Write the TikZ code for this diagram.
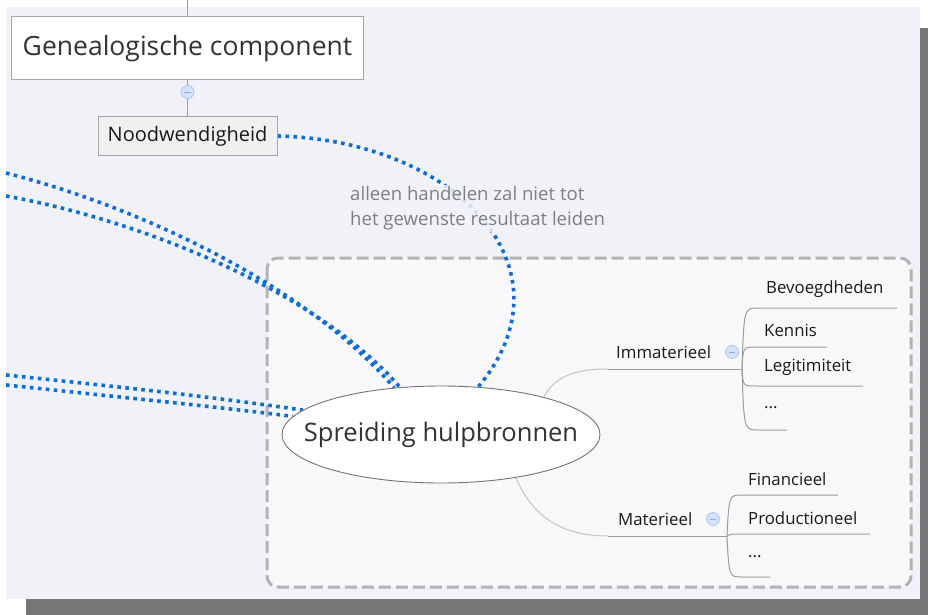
\documentclass[tikz,border=0pt]{standalone}
\usepackage{fontspec}
\setmainfont{Open Sans}
\usetikzlibrary{shapes.geometric}
\definecolor{canvasbg}{HTML}{F1F2F8}
\definecolor{innerbg}{HTML}{F8F8FB}
\definecolor{shadowc}{HTML}{777777}
\definecolor{bluedot}{HTML}{0A6DD9}
\definecolor{brgray}{HTML}{9C9C9C}
\definecolor{softgray}{HTML}{C4C4C4}
\definecolor{boxborder}{HTML}{A6A6A6}
\definecolor{textdark}{HTML}{333333}
\definecolor{labelgray}{HTML}{7F7F7F}
\definecolor{dashgray}{HTML}{B3B3B3}
\definecolor{colfill}{HTML}{D3E2FA}
\definecolor{colborder}{HTML}{AFC7EE}
\definecolor{colminus}{HTML}{8DA9D6}
\pgfdeclarelayer{back}
\pgfdeclarelayer{links}
\pgfsetlayers{back,links,main}
\tikzset{
  conn/.style={draw=brgray, line width=0.9pt},
  brline/.style={draw=brgray, line width=1pt},
  softline/.style={draw=softgray, line width=1pt},
  bluelink/.style={draw=bluedot, line width=3.6pt, dash pattern=on 3.6pt off 4.4pt},
  genbox/.style={draw=boxborder, fill=white, line width=1pt, minimum width=352pt, minimum height=63pt, inner sep=0pt, text=textdark, font=\fontsize{26.5}{31}\selectfont},
  noodbox/.style={draw=boxborder, fill=black!6, line width=1pt, minimum width=179pt, minimum height=38pt, inner sep=0pt, text=black!90, font=\fontsize{20}{24}\selectfont},
  mainell/.style={ellipse, draw=black!55, fill=white, line width=0.9pt, minimum width=318pt, minimum height=97pt, inner sep=0pt},
  collapse/.style={circle, draw=colborder, fill=colfill, line width=0.8pt, minimum size=13pt, inner sep=0pt},
  brtext/.style={anchor=west, inner sep=0pt, text=black!90, font=\fontsize{16.8}{20}\selectfont},
  reltext/.style={anchor=west, inner sep=2pt, align=left, text=labelgray, fill=canvasbg, fill opacity=0.85, text opacity=1, font=\fontsize{18.6}{25}\selectfont},
}
\begin{document}
\begin{tikzpicture}[x=1pt,y=-1pt]
\useasboundingbox (0,0) rectangle (928,615);
\begin{pgfonlayer}{back}
\fill[white] (0,0) rectangle (928,615);
\fill[shadowc] (26,28) rectangle (928,615);
\fill[canvasbg] (6,7) rectangle (920,599);
\draw[draw=dashgray, fill=innerbg, line width=3pt, dash pattern=on 12pt off 5pt, rounded corners=11pt] (267,258) rectangle (911,587);
\end{pgfonlayer}

% top nodes
\coordinate (topin) at (187.5,0);
\node[genbox] (gen) at (187.5,48.5) {Genealogische component};
\node[collapse] (c1) at (187.5,92) {};
\node[noodbox] (nood) at (187.5,136) {Noodwendigheid};
\draw[conn] (topin) -- (gen.north);
\draw[conn] (gen.south) -- (c1.north);
\draw[conn] (c1.south) -- (nood.north);
\draw[draw=colminus, line width=0.9pt] ([xshift=-3.2pt]c1.center) -- ([xshift=3.2pt]c1.center);

% central ellipse
\node[mainell] (spr) at (441,434.5) {};
\node[inner sep=0pt, text=textdark, font=\fontsize{25.5}{31}\selectfont] (sprtext) at (spr.center) {Spreiding hulpbronnen};

% relationship label
\node[reltext] (rel) at (348,208.5) {alleen handelen zal niet tot\\het gewenste resultaat leiden};

% blue dotted relations
\coordinate (la) at (6,173);
\coordinate (lb) at (6,196);
\coordinate (lc) at (6,375);
\coordinate (ld) at (6,385);
\begin{pgfonlayer}{links}
\draw[bluelink] (nood.east) .. controls (455,140) and (578,268) .. (spr.52);
\draw[bluelink] (la) .. controls (150,210) and (310,290) .. (spr.135);
\draw[bluelink] (lb) .. controls (150,222) and (320,295) .. (spr.131);
\draw[bluelink] (lc) .. controls (100,385) and (200,395) .. (spr.170);
\draw[bluelink] (ld) .. controls (100,395) and (200,405) .. (spr.173);
\end{pgfonlayer}

% Immaterieel branch
\coordinate (immL) at (608,369);
\coordinate (immR) at (742,369);
\node[brtext] (imm) at (616,352) {Immaterieel};
\node[collapse] (c2) at (732,352) {};
\draw[draw=colminus, line width=0.9pt] ([xshift=-3.2pt]c2.center) -- ([xshift=3.2pt]c2.center);
\draw[softline] (spr.20) .. controls (556,374) and (580,369) .. (immL);
\draw[brline] (immL) -- (immR);

\node[brtext] (bev) at (766,289) {Bevoegdheden};
\node[brtext] (ken) at (764,330) {Kennis};
\node[brtext] (leg) at (764,367) {Legitimiteit};
\node[brtext] (idots) at (764,408) {...};
\coordinate (bevE) at (897,308);
\coordinate (kenE) at (827,347);
\coordinate (legE) at (863,386);
\coordinate (idotsE) at (787,430);
\draw[brline] (immR) .. controls (744,308) .. (758,308) -- (bevE);
\draw[brline] (immR) .. controls (743,347) .. (756,347) -- (kenE);
\draw[brline] (immR) .. controls (743,386) .. (756,386) -- (legE);
\draw[brline] (immR) .. controls (744,430) .. (758,430) -- (idotsE);

% Materieel branch
\coordinate (matL) at (608,536);
\coordinate (matR) at (727,536);
\node[brtext] (mat) at (618,519) {Materieel};
\node[collapse] (c3) at (713,519) {};
\draw[draw=colminus, line width=0.9pt] ([xshift=-3.2pt]c3.center) -- ([xshift=3.2pt]c3.center);
\draw[softline] (spr.-30) .. controls (535,522) and (568,536) .. (matL);
\draw[brline] (matL) -- (matR);

\node[brtext] (fin) at (748,479) {Financieel};
\node[brtext] (prod) at (748,518) {Productioneel};
\node[brtext] (mdots) at (748,557) {...};
\coordinate (finE) at (838,495);
\coordinate (prodE) at (870,534);
\coordinate (mdotsE) at (770,577);
\draw[brline] (matR) .. controls (729,495) .. (742,495) -- (finE);
\draw[brline] (matR) .. controls (730,534) .. (742,534) -- (prodE);
\draw[brline] (matR) .. controls (729,577) .. (742,577) -- (mdotsE);
\end{tikzpicture}
\end{document}
